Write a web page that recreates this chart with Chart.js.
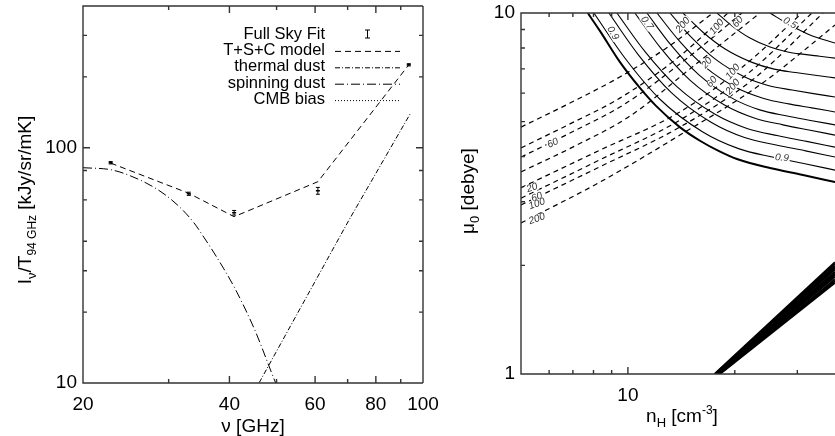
<!DOCTYPE html>
<html>
<head>
<meta charset="utf-8">
<script src="https://cdn.jsdelivr.net/npm/chart.js@4.4.0/dist/chart.umd.min.js"></script>
<style>
  body { margin: 0; background: #fff; width: 835px; height: 436px; overflow: hidden; position: relative; }
  #left { position: absolute; left: 0; top: 0; }
  #right { position: absolute; left: 421px; top: 0; }
</style>
</head>
<body>
<canvas id="left" width="460" height="436"></canvas>
<canvas id="right" width="414" height="436"></canvas>
<script>
const FONT = "'Liberation Sans', Arial, Helvetica, sans-serif";

// ---- left panel: frequency spectrum ----
const freqGHz = [22.8, 33.0, 40.9, 60.8, 93.5];
const fullSkyFit = [86.3, 63.7, 52.9, 65.6, 225];
const fullSkyErr = [1.0, 1.0, 1.2, 2.2, 2.5];
const tscModel = [86.0, 64.0, 50.9, 71.7, 225];
const thermalFreq = [45, 70.5, 94.4];
const thermalDust = [9.2, 49.4, 140.8];
const spinFreq = [20, 22.8, 25, 28.5, 31.3, 33.8, 35.5, 37.2, 40.9, 45.1, 49.8, 52];
const spinningDust = [82.2, 80.6, 76, 66.3, 57, 48, 41.4, 35.7, 25.6, 16.8, 10, 8.2];
const cmbFreq = [];
const cmbBias = [];   // lies below the plotted range
const leftXTicks = [20, 30, 40, 50, 60, 70, 80, 90, 100];
const leftXLabels = [20, 40, 60, 80, 100];
const leftYTicks = [10, 20, 30, 40, 60, 80, 100, 200, 300];
const leftYLabels = [10, 100];

// ---- right panel: n_H vs mu_0 contours ----
const solidContours = [
  [[7.71,10],[8.34,8.92],[9.49,7.32],[10.81,6.20],[12,5.53],[14,4.83],[16,4.42],[18,4.15],[20.28,3.94],[25.12,3.72],[31.12,3.56],[38.3,3.40]],
  [[8.02,10],[9.83,7.48],[12.33,5.76],[16.21,4.69],[20.49,4.21],[25.5,3.99],[31.26,3.83],[38.3,3.67]],
  [[8.84,10],[10.70,7.66],[13.23,6.03],[17.10,4.99],[21.30,4.52],[26.15,4.31],[31.64,4.15],[38.3,3.99]],
  [[9.31,10],[11.19,7.80],[13.74,6.25],[17.60,5.24],[21.75,4.78],[26.51,4.57],[31.87,4.41],[38.3,4.25]],
  [[10.46,10],[12.39,7.98],[14.95,6.52],[18.76,5.55],[22.79,5.11],[27.33,4.90],[32.35,4.74],[38.3,4.59]],
  [[11.31,10],[13.25,8.13],[15.82,6.75],[19.58,5.82],[23.51,5.39],[27.89,5.19],[32.69,5.04],[38.3,4.90]],
  [[12.07,10],[14.01,8.33],[16.58,7.06],[20.29,6.20],[24.13,5.80],[28.36,5.60],[32.96,5.46],[38.3,5.32]],
  [[13.13,10],[15.10,8.56],[17.63,7.45],[21.26,6.66],[24.96,6.29],[29.0,6.12],[33.32,5.98],[38.3,5.85]],
  [[14.29,10],[16.24,8.86],[18.74,7.96],[22.27,7.31],[25.81,6.99],[29.64,6.84],[33.68,6.72],[38.3,6.61]],
  [[17.81,10],[19.67,9.20],[22.0,8.54],[25.14,8.05],[28.19,7.80],[31.38,7.68],[34.67,7.59],[38.3,7.50]],
  [[25.12,10],[28.6,9.26],[32.56,8.69],[38.3,8.26]]
];
const dashedContours = [
  [[5.0,4.83],[6.87,5.63],[9.49,6.65],[12.96,8.05],[17.35,10]],
  [[5.0,4.23],[6.87,4.93],[9.49,5.81],[13.57,7.41],[19.13,10]],
  [[5.0,3.99],[6.87,4.65],[9.81,5.60],[14.47,7.41],[20.95,10]],
  [[5.0,3.63],[7.09,4.28],[10.13,5.18],[15.44,7.18],[23.54,10]],
  [[5.0,3.28],[8.34,4.17],[14.01,5.32],[21.36,7.18],[30.92,10]],
  [[5.0,3.07],[8.34,3.92],[14.01,5.05],[22.07,6.87],[32.98,10]],
  [[5.0,2.94],[8.34,3.75],[14.01,4.83],[22.79,6.61],[35.43,10]],
  [[5.0,2.62],[8.34,3.40],[14.01,4.59],[23.54,6.32],[38.3,9.26]]
];
const fanStart = [17.55, 17.6, 17.66, 17.71, 17.77, 17.82, 17.88, 17.93, 17.99, 18.04, 18.1, 18.15];
const fanEnd = [2.04, 2.02, 1.99, 1.97, 1.95, 1.92, 1.90, 1.88, 1.86, 1.83, 1.81, 1.79];
const contourLabels = [
  ['0.9', 9.07, 8.80, 60], ['0.7', 11.31, 9.38, 55], ['0.5', 28.6, 9.38, 30], ['0.9', 27.15, 3.97, 6],
  ['60', 6.15, 4.36, -25], ['20', 5.37, 3.28, -20], ['60', 5.54, 3.09, -20], ['100', 5.54, 2.96, -20], ['200', 5.54, 2.69, -20],
  ['200', 14.29, 9.26, -50], ['100', 17.81, 9.15, -50], ['60', 20.41, 9.44, -50],
  ['20', 16.69, 7.27, -50], ['60', 17.24, 6.44, -50], ['100', 19.76, 6.87, -50], ['200', 19.76, 6.24, -50]
];
const rightXTicks = [6, 7, 8, 9, 10, 20, 30];
const rightXLabels = [10];
const rightYTicks = [2, 3, 4, 5, 6, 7, 8, 9];
const rightYLabels = [1, 10];

const pts = (xs, ys) => xs.map((x, i) => ({x, y: ys[i]}));

function richText(ctx, parts, x, y, angle) {
  ctx.save();
  ctx.translate(x, y);
  ctx.rotate(angle);
  let w = 0;
  parts.forEach(p => { ctx.font = p[1] + 'px ' + FONT; p.w = ctx.measureText(p[0]).width; w += p.w; });
  let cx = -w / 2;
  ctx.textAlign = 'left'; ctx.textBaseline = 'alphabetic'; ctx.fillStyle = '#000';
  parts.forEach(p => { ctx.font = p[1] + 'px ' + FONT; ctx.fillText(p[0], cx, p[2]); cx += p.w; });
  ctx.restore();
}

// inward ticks and frame, IDL style
function frame(o) {
  return {
    id: 'frame',
    afterDatasetsDraw(chart) {
      const {ctx, chartArea: a, scales: {x, y}} = chart;
      ctx.save();
      ctx.strokeStyle = '#333'; ctx.lineWidth = 1.4;
      ctx.beginPath();
      ctx.moveTo(a.right, a.top); ctx.lineTo(a.left, a.top); ctx.lineTo(a.left, a.bottom); ctx.lineTo(a.right, a.bottom);
      if (o.right) { ctx.moveTo(a.right, a.top); ctx.lineTo(a.right, a.bottom); }
      o.xTicks.forEach(v => {
        const p = x.getPixelForValue(v), l = o.xLabels.includes(v) ? 7 : 4;
        ctx.moveTo(p, a.bottom); ctx.lineTo(p, a.bottom - l);
        ctx.moveTo(p, a.top); ctx.lineTo(p, a.top + l);
      });
      o.yTicks.forEach(v => {
        const p = y.getPixelForValue(v), l = o.yLabels.includes(v) ? 7 : 4;
        ctx.moveTo(a.left, p); ctx.lineTo(a.left + l, p);
        if (o.right) { ctx.moveTo(a.right, p); ctx.lineTo(a.right - l, p); }
      });
      ctx.stroke();
      ctx.restore();
      o.titles.forEach(t => richText(ctx, t[0], t[1], t[2], t[3]));
    }
  };
}

function axes(xr, yr, xt, xl, yt, yl, xh, yw) {
  const tick = list => v => list.includes(v) ? String(v) : '';
  const font = {family: FONT, size: 19};
  const uniq = (a, b) => a.concat(b).filter((v, i, arr) => arr.indexOf(v) === i).sort((p, q) => p - q);
  return {
    x: { type: 'logarithmic', min: xr[0], max: xr[1],
         grid: {display: false, drawTicks: false}, border: {display: false},
         afterBuildTicks: s => { s.ticks = uniq(xt, xl).map(v => ({value: v})); },
         afterFit: s => { s.height = xh; s.paddingLeft = 0; s.paddingRight = 0; },
         ticks: {autoSkip: false, maxRotation: 0, padding: 10, color: '#000', font, callback: tick(xl)} },
    y: { type: 'logarithmic', min: yr[0], max: yr[1],
         grid: {display: false, drawTicks: false}, border: {display: false},
         afterBuildTicks: s => { s.ticks = uniq(yt, yl).map(v => ({value: v})); },
         afterFit: s => { s.width = yw; s.paddingTop = 0; s.paddingBottom = 0; },
         ticks: {autoSkip: false, padding: 6, color: '#000', font, callback: tick(yl)} }
  };
}

const errorBars = {
  id: 'errorBars',
  afterDatasetsDraw(chart) {
    const {ctx, scales: {x, y}} = chart;
    ctx.save();
    ctx.strokeStyle = '#000'; ctx.lineWidth = 1;
    freqGHz.forEach((f, i) => {
      const px = x.getPixelForValue(f);
      const lo = y.getPixelForValue(fullSkyFit[i] - fullSkyErr[i]);
      const hi = y.getPixelForValue(fullSkyFit[i] + fullSkyErr[i]);
      ctx.beginPath();
      ctx.moveTo(px, lo); ctx.lineTo(px, hi);
      ctx.moveTo(px - 2, lo); ctx.lineTo(px + 2, lo);
      ctx.moveTo(px - 2, hi); ctx.lineTo(px + 2, hi);
      ctx.stroke();
    });
    ctx.restore();
  }
};

const spectrumLegend = {
  id: 'spectrumLegend',
  afterDraw(chart) {
    const ctx = chart.ctx;
    ctx.save();
    ctx.font = '16.5px ' + FONT; ctx.textAlign = 'right'; ctx.textBaseline = 'middle'; ctx.fillStyle = '#000';
    ctx.strokeStyle = '#000'; ctx.lineWidth = 1;
    chart.data.datasets.forEach((ds, i) => {
      const yy = 34 + i * 16.4;
      ctx.fillText(ds.label, 325, yy);
      ctx.beginPath();
      if (i === 0) {
        ctx.setLineDash([]);
        ctx.moveTo(367.5, yy - 4); ctx.lineTo(367.5, yy + 4);
        ctx.moveTo(365, yy - 4); ctx.lineTo(370, yy - 4);
        ctx.moveTo(365, yy + 4); ctx.lineTo(370, yy + 4);
      } else {
        ctx.setLineDash(ds.borderDash);
        ctx.moveTo(335, yy + 1); ctx.lineTo(400, yy + 1);
      }
      ctx.stroke();
    });
    ctx.restore();
  }
};

new Chart(document.getElementById('left'), {
  type: 'line',
  data: {
    datasets: [
      {label: 'Full Sky Fit', data: pts(freqGHz, fullSkyFit), showLine: false,
       pointStyle: 'line', pointRadius: 2, pointBorderWidth: 1.5, borderColor: '#000'},
      {label: 'T+S+C model', data: pts(freqGHz, tscModel), borderDash: [6, 4]},
      {label: 'thermal dust', data: pts(thermalFreq, thermalDust), borderDash: [5, 2, 1, 2]},
      {label: 'spinning dust', data: pts(spinFreq, spinningDust), borderDash: [9, 3, 1, 3], cubicInterpolationMode: 'monotone'},
      {label: 'CMB bias', data: pts(cmbFreq, cmbBias), borderDash: [1, 2]}
    ]
  },
  options: {
    responsive: false, animation: false,
    layout: {autoPadding: false, padding: {top: 6, right: 37, left: 0, bottom: 0}},
    elements: {line: {borderColor: '#000', borderWidth: 1, fill: false}, point: {radius: 0}},
    plugins: {legend: {display: false}, tooltip: {enabled: false}},
    scales: axes([20, 100], [10, 400], leftXTicks, leftXLabels, leftYTicks, leftYLabels, 53, 83)
  },
  plugins: [errorBars, spectrumLegend, frame({
    right: true, xTicks: leftXTicks, xLabels: leftXLabels, yTicks: leftYTicks, yLabels: leftYLabels,
    titles: [
      [[['I', 19, 0], ['\u03bd', 13, 5], ['/T', 19, 0], ['94 GHz', 12, 5], [' [kJy/sr/mK]', 19, 0]], 31, 200, -Math.PI / 2],
      [[['\u03bd [GHz]', 19, 0]], 253, 432, 0]
    ]
  })]
});

const contourText = {
  id: 'contourText',
  afterDatasetsDraw(chart) {
    const {ctx, scales: {x, y}} = chart;
    ctx.save();
    ctx.font = 'italic 10px ' + FONT; ctx.textAlign = 'center'; ctx.textBaseline = 'middle';
    contourLabels.forEach(([t, nx, ny, ang]) => {
      const px = x.getPixelForValue(nx), py = y.getPixelForValue(ny);
      ctx.save();
      ctx.translate(px, py); ctx.rotate(ang * Math.PI / 180);
      const w = ctx.measureText(t).width;
      ctx.fillStyle = '#fff'; ctx.fillRect(-w / 2 - 1, -4, w + 2, 8);
      ctx.fillStyle = '#333'; ctx.fillText(t, 0, 0);
      ctx.restore();
    });
    ctx.restore();
  }
};

const rightSets = [];
solidContours.forEach((c, i) => rightSets.push({
  data: c.map(p => ({x: p[0], y: p[1]})), borderWidth: i === 0 ? 2 : 1.1, cubicInterpolationMode: 'monotone'
}));
dashedContours.forEach(c => rightSets.push({
  data: c.map(p => ({x: p[0], y: p[1]})), borderWidth: 1.2, borderDash: [5, 4], cubicInterpolationMode: 'monotone'
}));
fanStart.forEach((s, i) => rightSets.push({
  data: [{x: s, y: 1}, {x: 38.3, y: fanEnd[i]}], borderWidth: 2
}));

new Chart(document.getElementById('right'), {
  type: 'line',
  data: {datasets: rightSets},
  options: {
    responsive: false, animation: false,
    layout: {autoPadding: false, padding: {top: 13, right: 0, left: 0, bottom: 0}},
    elements: {line: {borderColor: '#000', borderWidth: 1, fill: false}, point: {radius: 0}},
    plugins: {legend: {display: false}, tooltip: {enabled: false}},
    scales: axes([5, 38.3], [1, 10], rightXTicks, rightXLabels, rightYTicks, rightYLabels, 62, 100)
  },
  plugins: [contourText, frame({
    right: false, xTicks: rightXTicks, xLabels: rightXLabels, yTicks: rightYTicks, yLabels: rightYLabels,
    titles: [
      [[['\u03bc', 19, 0], ['0', 13, 5], [' [debye]', 19, 0]], 53, 191, -Math.PI / 2],
      [[['n', 19, 0], ['H', 13, 5], [' [cm', 19, 0], ['-3', 12, -8], [']', 19, 0]], 261, 422, 0]
    ]
  })]
});
</script>
</body>
</html>
